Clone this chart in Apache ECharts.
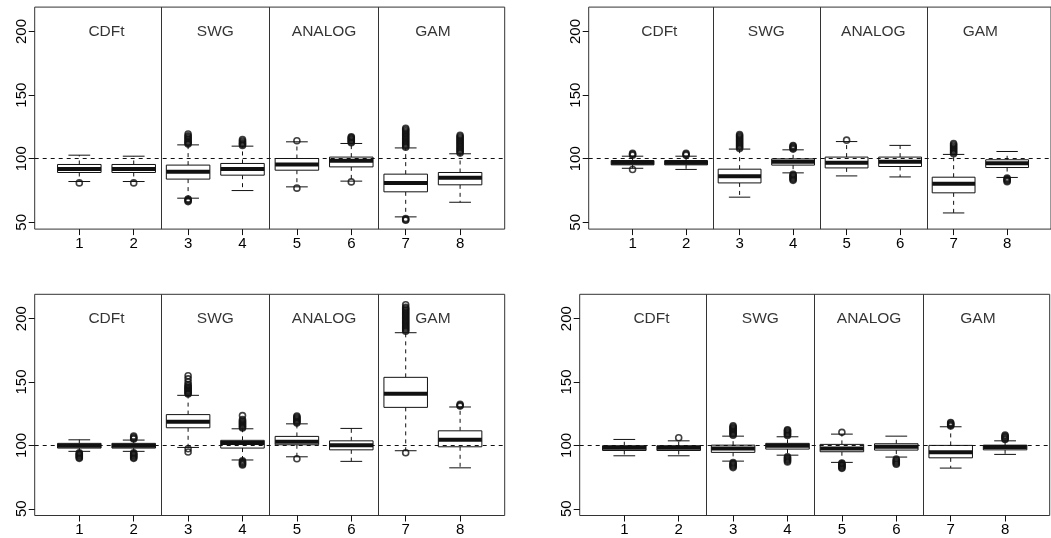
<!DOCTYPE html>
<html><head><meta charset="utf-8">
<script src="https://cdn.jsdelivr.net/npm/echarts@6.0.0/dist/echarts.min.js"></script>
<style>html,body{margin:0;padding:0;background:#fff}#c{width:1051px;height:538px}</style>
</head><body><div id="c"></div>
<script>
// ---------- data ----------
const groupNames = ['CDFt', 'SWG', 'ANALOG', 'GAM'];
const groupCenters = [1.5, 3.5, 5.5, 7.5];
const boxPositions = [1, 2, 3, 4, 5, 6, 7, 8];
const xTickLabels = ['1', '2', '3', '4', '5', '6', '7', '8'];
const yTicks = [50, 100, 150, 200];
const refLevel = 100;
const separators = [2.5, 4.5, 6.5];

// box stats per box: [lower whisker, Q1, median, Q3, upper whisker]
const statsTL = [
  [82.1, 89.2, 92.0, 95.5, 102.8],
  [82.1, 89.2, 92.0, 95.5, 102.0],
  [69.0, 84.0, 89.7, 95.0, 110.9],
  [75.0, 87.1, 92.0, 96.3, 109.9],
  [77.9, 91.0, 95.5, 100.2, 113.3],
  [82.4, 93.6, 98.4, 101.3, 112.0],
  [54.3, 74.0, 81.0, 87.9, 108.5],
  [65.8, 79.5, 85.0, 89.2, 103.9]
];
const outTL = [
  [81.0],
  [81.0],
  [66.3, 67.0, 67.7, 68.3, 111.5, 112.3, 113, 114, 115, 116, 117, 118, 119.5],
  [110.5, 111.3, 112, 113, 114, 115],
  [76.9, 114.2],
  [81.8, 112.6, 113.4, 114.2, 115, 115.8, 116.6, 117.2],
  [51.7, 52.3, 53.0, 109, 110, 111, 112, 113, 114, 115, 116, 117, 118, 119, 120, 121, 122, 123, 124],
  [104.5, 105.5, 106.5, 107.5, 108.5, 109.5, 110.5, 111.5, 112.5, 113.5, 114.5, 115.5, 116.5, 117.5, 118.5]
];

const statsTR = [
  [92.5, 95.2, 96.8, 98.6, 102.0],
  [91.6, 95.2, 96.8, 98.6, 102.0],
  [69.8, 81.0, 86.3, 91.8, 107.6],
  [88.9, 95.0, 97.6, 99.9, 107.0],
  [86.5, 92.8, 96.8, 101.3, 113.5],
  [85.7, 93.9, 97.6, 101.3, 110.5],
  [57.4, 73.2, 80.3, 85.5, 103.4],
  [85.3, 93.1, 96.5, 99.2, 105.7]
];
const outTR = [
  [91.5, 102.8, 103.5, 104.2],
  [102.8, 103.5, 104.2],
  [108, 109, 110, 111, 112, 113, 114, 115, 116, 117, 118, 119],
  [83, 83.8, 84.6, 85.4, 86.2, 87, 87.7, 107.6, 108.3, 109, 109.7, 110.4],
  [114.6],
  [],
  [104, 105, 106, 107, 108, 109, 110, 111, 112],
  [82, 82.7, 83.4, 84.1, 84.8]
];

const statsBL = [
  [95.3, 97.9, 99.7, 101.6, 104.4],
  [95.3, 97.9, 99.7, 101.6, 104.2],
  [98.4, 113.9, 118.6, 124.3, 139.5],
  [88.5, 97.9, 101.8, 104.0, 113.1],
  [91.0, 100.5, 102.9, 107.1, 117.0],
  [87.4, 96.5, 100.2, 103.6, 113.4],
  [95.8, 130.0, 140.8, 153.7, 188.9],
  [82.3, 98.9, 104.4, 111.5, 130.3]
];
const outBL = [
  [89.8, 90.5, 91.2, 92, 92.7, 93.4, 94.1],
  [89.8, 90.5, 91.2, 92, 92.7, 93.4, 94.1, 105, 105.7, 106.4, 107.3],
  [94.8, 97.3, 140.5, 141.2, 142, 142.8, 143.6, 144.4, 145.2, 146, 147, 148, 150, 152.5, 155],
  [84.6, 85.4, 86.2, 87, 87.8, 113.8, 114.6, 115.4, 116.2, 117, 117.8, 118.6, 119.4, 120.4, 123.5],
  [89.5, 117.6, 118.4, 119.2, 120, 120.8, 121.6, 122.4, 123.2],
  [],
  [94.2, 190, 191, 192, 193, 194, 195, 196, 197, 198, 199, 200, 201, 202, 203, 204, 205, 206, 207, 208, 209, 211],
  [131, 131.7, 132.4]
];

const statsBR = [
  [91.8, 96.0, 98.1, 99.7, 104.7],
  [91.8, 96.0, 98.1, 99.7, 103.6],
  [87.6, 94.5, 97.6, 100.2, 107.3],
  [92.3, 97.1, 99.7, 101.6, 106.8],
  [86.6, 95.0, 97.6, 100.8, 108.9],
  [90.8, 96.3, 98.9, 101.3, 107.3],
  [82.1, 90.2, 94.5, 100.0, 114.7],
  [92.9, 96.5, 98.7, 100.2, 103.6]
];
const outBR = [
  [],
  [106],
  [82.5, 83.3, 84.1, 84.9, 85.7, 86.4, 108, 108.8, 109.6, 110.4, 111.2, 112, 112.8, 113.6, 114.5, 115.4],
  [87, 87.8, 88.6, 89.4, 90.2, 91, 107.8, 108.6, 109.4, 110.2, 111, 111.8, 112.3],
  [81.9, 82.6, 83.3, 84, 84.7, 85.4, 86, 110.3],
  [85.1, 85.9, 86.7, 87.5, 88.3, 89.2],
  [115.3, 116, 116.7, 117.4, 118.1],
  [104.6, 105.3, 106, 106.7, 107.4, 108.1]
];

// ---------- layout ----------
const panels = [
  { stats: statsTL, out: outTL, rect: { left: 34.7, top: 7.1, width: 470, height: 222 } },
  { stats: statsTR, out: outTR, rect: { left: 588.7, top: 7.1, width: 470, height: 222 } },
  { stats: statsBL, out: outBL, rect: { left: 34.7, top: 294.3, width: 470, height: 221.2 } },
  { stats: statsBR, out: outBR, rect: { left: 579.7, top: 294.3, width: 470, height: 221.2 } }
];

const FONT = '"Liberation Sans", Arial, Helvetica, sans-serif';
const INK = '#111';
const BOX_HALF = 0.4, CAP_HALF = 0.2;

function renderBox(params, api) {
  const x = api.value(0);
  const lo = api.value(1), q1 = api.value(2), med = api.value(3), q3 = api.value(4), hi = api.value(5);
  const c = (a, b) => api.coord([a, b]);
  const pHi = c(x, hi), pQ3 = c(x, q3), pQ1 = c(x, q1), pLo = c(x, lo);
  const boxL = c(x - BOX_HALF, q3), boxR = c(x + BOX_HALF, q1);
  const capL = c(x - CAP_HALF, hi), capR = c(x + CAP_HALF, hi);
  const capL2 = c(x - CAP_HALF, lo), capR2 = c(x + CAP_HALF, lo);
  const mL = c(x - BOX_HALF, med), mR = c(x + BOX_HALF, med);
  const dashed = { stroke: INK, lineWidth: 1, lineDash: [4, 4] };
  const solid = { stroke: INK, lineWidth: 1 };
  return {
    type: 'group',
    children: [
      { type: 'line', shape: { x1: pQ3[0], y1: pQ3[1], x2: pHi[0], y2: pHi[1] }, style: dashed },
      { type: 'line', shape: { x1: pQ1[0], y1: pQ1[1], x2: pLo[0], y2: pLo[1] }, style: dashed },
      { type: 'line', shape: { x1: capL[0], y1: capL[1], x2: capR[0], y2: capR[1] }, style: solid },
      { type: 'line', shape: { x1: capL2[0], y1: capL2[1], x2: capR2[0], y2: capR2[1] }, style: solid },
      { type: 'rect', shape: { x: boxL[0], y: boxL[1], width: boxR[0] - boxL[0], height: boxR[1] - boxL[1] },
        style: { fill: '#fff', stroke: INK, lineWidth: 1 } },
      { type: 'line', shape: { x1: mL[0], y1: mL[1], x2: mR[0], y2: mR[1] }, style: { stroke: INK, lineWidth: 4 } }
    ]
  };
}

const grid = [], xAxis = [], yAxis = [], series = [];
panels.forEach((p, i) => {
  grid.push(Object.assign({ show: true, borderColor: '#333', borderWidth: 1, backgroundColor: 'transparent' }, p.rect));
  xAxis.push({
    type: 'value', gridIndex: i, min: 0.18, max: 8.82,
    axisLine: { show: false }, splitLine: { show: false },
    axisTick: { show: true, length: 6, customValues: boxPositions, lineStyle: { color: INK } },
    axisLabel: { customValues: boxPositions, formatter: v => xTickLabels[boxPositions.indexOf(v)],
      color: '#000', fontFamily: FONT, fontSize: 15, margin: 7 }
  });
  yAxis.push({
    type: 'value', gridIndex: i, min: 44.7, max: 219.2,
    axisLine: { show: false }, splitLine: { show: false },
    axisTick: { show: true, length: 6, customValues: yTicks, lineStyle: { color: INK } },
    axisLabel: { customValues: yTicks, rotate: 90, color: '#000', fontFamily: FONT, fontSize: 15, margin: 5 }
  });
  series.push({
    type: 'custom', xAxisIndex: i, yAxisIndex: i, renderItem: renderBox, silent: true, z: 3,
    data: p.stats.map((s, k) => [boxPositions[k]].concat(s))
  });
  const outPts = [];
  p.out.forEach((arr, k) => arr.forEach(v => outPts.push([boxPositions[k], v])));
  series.push({
    type: 'scatter', xAxisIndex: i, yAxisIndex: i, silent: true, z: 4,
    symbol: 'circle', symbolSize: 6,
    itemStyle: { color: 'rgba(0,0,0,0)', borderColor: INK, borderWidth: 1.6 },
    data: outPts,
    markLine: {
      silent: true, symbol: 'none', label: { show: false }, animation: false,
      data: separators.map(s => ({ xAxis: s, lineStyle: { color: '#333', type: 'solid', width: 1 } }))
        .concat([{ yAxis: refLevel, lineStyle: { color: INK, type: [4, 4], width: 1 } }])
    }
  });
  series.push({
    type: 'scatter', xAxisIndex: i, yAxisIndex: i, silent: true, symbolSize: 0, z: 5,
    data: groupNames.map((n, k) => [groupCenters[k], 200, n]),
    label: { show: true, position: 'inside', formatter: q => q.data[2], color: '#000', fontFamily: FONT, fontSize: 15.5 }
  });
});

const chart = echarts.init(document.getElementById('c'), null, { renderer: 'canvas' });
chart.setOption({ animation: false, grid, xAxis, yAxis, series });
</script></body></html>
